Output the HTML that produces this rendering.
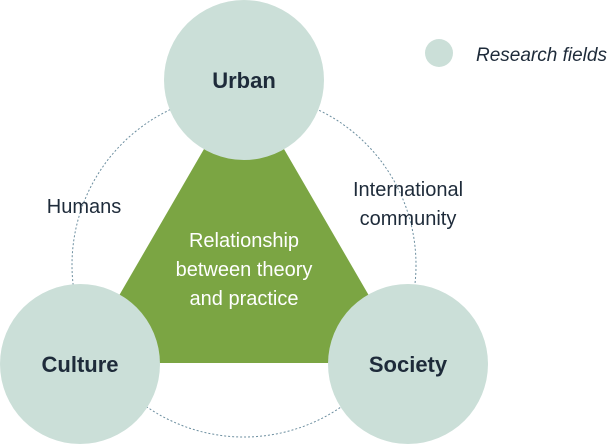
<!DOCTYPE html>
<html><head><meta charset="utf-8"><style>
html,body{margin:0;padding:0;background:#fff;}
svg{display:block;}
text{font-family:"Liberation Sans",sans-serif;}
</style></head><body>
<svg width="607" height="444" viewBox="0 0 607 444" xmlns="http://www.w3.org/2000/svg">
<circle cx="244" cy="265" r="172" fill="none" stroke="#6d8fa0" stroke-width="1" stroke-dasharray="2,2"/>
<polygon points="244,80 80,363 408,363" fill="#7ba543"/>
<circle cx="244" cy="80" r="80" fill="#cbdfd8"/>
<circle cx="80" cy="364" r="80" fill="#cbdfd8"/>
<circle cx="408" cy="364" r="80" fill="#cbdfd8"/>
<circle cx="439" cy="53" r="14" fill="#cbdfd8"/>
<text x="476" y="61" font-size="19" font-style="italic" fill="#1e2b3a">Research fields</text>
<g font-weight="bold" font-size="22" fill="#1e2b3a" text-anchor="middle">
<text x="244" y="88">Urban</text>
<text x="80" y="372">Culture</text>
<text x="408" y="372">Society</text>
</g>
<g font-size="20" fill="#1e2b3a" text-anchor="middle">
<text x="84" y="213">Humans</text>
<text x="408" y="196">International</text>
<text x="408" y="225">community</text>
</g>
<g font-size="20" fill="#ffffff" text-anchor="middle">
<text x="244" y="247">Relationship</text>
<text x="244" y="276">between theory</text>
<text x="244" y="305">and practice</text>
</g>
</svg>
</body></html>
